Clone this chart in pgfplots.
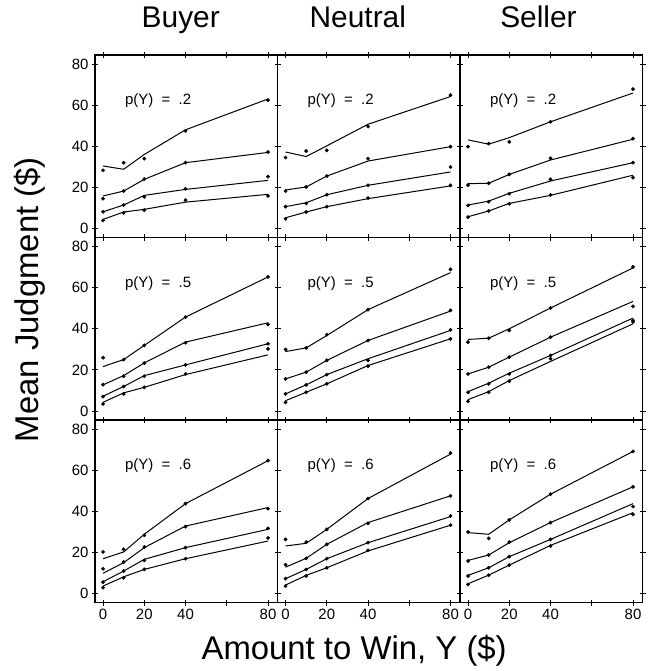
\documentclass[border=0pt]{standalone}
\usepackage{fontspec}
\setmainfont{Liberation Sans}
\usepackage{pgfplots}
\usepackage{pgfplotstable}
\pgfplotsset{compat=1.18}

% columns: x, observed points p1..p4, fitted lines f1..f4
\pgfplotstableread{
x  p1   f1   p2   f2   p3   f3   p4   f4
0  28.3 30.4 14.5 15.8 8.1  8.1  3.9  4.4
10 32.0 28.8 18.2 18.2 11.4 11.4 7.6  8.0
20 34.0 36.0 24.0 23.9 15.4 16.1 8.9  9.3
40 47.5 48.0 32.0 32.0 19.3 19.0 13.8 12.8
80 62.4 63.0 37.2 37.0 25.2 23.4 15.8 16.6
}\Btwo
\pgfplotstableread{
x  p1   f1   p2   f2   p3   f3   p4   f4
0  34.5 37.2 18.2 18.7 10.6 10.6 4.7  5.2
10 37.7 35.0 20.2 20.2 12.2 12.5 8.0  8.0
20 38.0 40.2 25.5 25.5 16.4 16.4 10.6 10.6
40 49.6 50.7 34.0 32.8 21.0 21.0 14.8 14.5
80 64.9 64.2 39.8 39.8 29.9 27.5 21.0 20.7
}\Ntwo
\pgfplotstableread{
x  p1   f1   p2   f2   p3   f3   p4   f4
0  39.8 43.1 21.1 21.8 11.2 11.4 5.5  5.7
10 41.3 41.0 22.0 22.0 13.0 13.3 8.5  8.5
20 42.1 44.2 26.3 26.3 16.9 17.1 12.0 12.2
40 51.9 51.9 34.1 33.3 23.9 23.1 16.3 16.1
80 67.8 65.9 43.7 43.4 32.0 32.0 24.7 25.9
}\Stwo
\pgfplotstableread{
x  p1   f1   p2   f2   p3   f3   p4   f4
0  25.9 21.6 12.8 12.7 7.0  7.2  3.4  4.2
10 25.0 25.0 16.9 17.2 11.9 11.9 8.3  8.8
20 31.9 31.9 23.3 23.4 16.9 17.2 11.5 11.5
40 45.7 45.7 33.2 33.5 22.4 22.4 18.0 17.7
80 65.2 65.2 42.1 42.9 32.7 32.7 30.2 27.3
}\Bfive
\pgfplotstableread{
x  p1   f1   p2   f2   p3   f3   p4   f4
0  29.9 28.9 15.6 15.6 8.3  8.3  4.2  5.0
10 30.7 30.7 18.9 18.9 12.7 12.7 9.1  9.1
20 37.1 36.7 24.6 24.6 17.7 17.7 13.2 13.2
40 49.3 49.3 34.3 34.3 24.6 25.4 21.8 22.1
80 68.9 67.3 48.9 48.6 39.5 39.2 35.1 35.1
}\Nfive
\pgfplotstableread{
x  p1   f1   p2   f2   p3   f3   p4   f4
0  33.5 34.8 18.0 18.0 9.1  9.4  4.7  5.5
10 35.4 35.4 21.3 21.3 13.2 13.5 9.1  9.4
20 39.2 40.0 26.2 26.2 18.0 18.4 14.5 14.8
40 50.1 50.1 35.9 35.9 27.0 27.0 25.4 24.1
80 70.1 69.6 50.9 53.3 44.1 45.2 43.3 42.4
}\Sfive
\pgfplotstableread{
x  p1   f1   p2   f2   p3   f3   p4   f4
0  20.2 16.9 12.0 9.8  5.5  5.7  2.8  3.6
10 21.5 20.2 15.3 15.0 10.9 10.9 7.6  8.1
20 28.3 28.8 22.6 22.3 16.1 16.6 11.7 11.7
40 43.7 43.7 32.5 32.8 22.3 22.3 16.9 16.9
80 64.6 64.6 41.3 41.8 31.7 31.2 27.0 25.5
}\Bsix
\pgfplotstableread{
x  p1   f1   p2   f2   p3   f3   p4   f4
0  26.3 23.1 14.0 12.8 7.2  7.2  3.6  4.1
10 25.0 24.4 17.1 17.1 11.7 11.7 8.5  8.8
20 31.2 31.2 23.9 23.9 16.9 16.9 12.5 12.5
40 46.2 46.2 34.1 34.5 24.7 24.7 21.0 20.7
80 68.3 67.8 47.5 47.5 37.7 37.4 33.2 33.2
}\Nsix
\pgfplotstableread{
x  p1   f1   p2   f2   p3   f3   p4   f4
0  29.9 29.6 15.8 16.1 8.5  8.8  4.4  4.7
10 26.8 28.8 18.7 18.7 12.5 12.5 8.9  8.9
20 35.8 35.8 25.0 24.7 17.9 17.9 13.8 13.8
40 48.3 48.3 34.5 34.5 26.3 26.3 23.1 23.4
80 69.1 69.1 51.9 51.9 42.3 43.7 38.5 39.3
}\Ssix

\newcommand{\bigf}{\fontsize{30}{36}\selectfont}
\newcommand{\labf}{\fontsize{33}{40}\selectfont}
\newcommand{\tickf}{\fontsize{15}{18}\selectfont}

\pgfplotsset{
  panel/.style={
    width=182.5bp, height=182.5bp, scale only axis, anchor=north west,
    xmin=-3.9, xmax=84.6, ymin=-4.4, ymax=84.4,
    xtick={0,20,40,60,80}, ytick={0,20,40,60,80},
    xticklabels={}, yticklabels={},
    tick align=center, major tick length=6bp,
    axis line style={line width=1.2bp},
    tick style={black, line width=0.8bp},
    ticklabel style={font=\tickf},
    /pgf/number format/assume math mode=true,
    clip=false,
  },
  fitline/.style={black, line width=1bp, no markers},
  pts/.style={black, only marks, mark=*, mark size=1.7bp},
  toprow/.style={title style={at={(axis description cs:#1,1)}, anchor=base, yshift=22bp, font=\bigf}},
  leftcol/.style={yticklabels={0,20,40,60,80}},
  botrow/.style={xticklabels={0,20,40,,80}},
}

\newcommand{\drawpanel}[2]{%
  \addplot[fitline] table[x=x,y=f1]{#1};
  \addplot[fitline] table[x=x,y=f2]{#1};
  \addplot[fitline] table[x=x,y=f3]{#1};
  \addplot[fitline] table[x=x,y=f4]{#1};
  \addplot[pts] table[x=x,y=p1]{#1};
  \addplot[pts] table[x=x,y=p2]{#1};
  \addplot[pts] table[x=x,y=p3]{#1};
  \addplot[pts] table[x=x,y=p4]{#1};
  \node[anchor=west, font=\tickf] at (axis cs:9,62) {p(Y)\ \ =\ \ #2};
}

\begin{document}
\begin{tikzpicture}
\useasboundingbox (0,0) rectangle (651bp,-671bp);

% top row
\begin{axis}[panel, at={(95bp,-55bp)}, toprow=0.47, title={Buyer}, leftcol]
\drawpanel{\Btwo}{.2}
\end{axis}
\begin{axis}[panel, at={(277.5bp,-55bp)}, toprow=0.44, title={Neutral}]
\drawpanel{\Ntwo}{.2}
\end{axis}
\begin{axis}[panel, at={(460bp,-55bp)}, toprow=0.43, title={Seller}]
\drawpanel{\Stwo}{.2}
\end{axis}

% middle row
\begin{axis}[panel, at={(95bp,-237.5bp)}, leftcol,
  ylabel={Mean Judgment (\$)},
  ylabel style={at={(axis description cs:-0.31,0.66)}, anchor=base, font=\labf}]
\drawpanel{\Bfive}{.5}
\end{axis}
\begin{axis}[panel, at={(277.5bp,-237.5bp)}]
\drawpanel{\Nfive}{.5}
\end{axis}
\begin{axis}[panel, at={(460bp,-237.5bp)}]
\drawpanel{\Sfive}{.5}
\end{axis}

% bottom row
\begin{axis}[panel, at={(95bp,-420bp)}, leftcol, botrow]
\drawpanel{\Bsix}{.6}
\end{axis}
\begin{axis}[panel, at={(277.5bp,-420bp)}, botrow,
  xlabel={Amount to Win, Y (\$)},
  xlabel style={at={(axis description cs:0.42,-0.31)}, anchor=base, font=\labf}]
\drawpanel{\Nsix}{.6}
\end{axis}
\begin{axis}[panel, at={(460bp,-420bp)}, botrow]
\drawpanel{\Ssix}{.6}
\end{axis}
\end{tikzpicture}
\end{document}
